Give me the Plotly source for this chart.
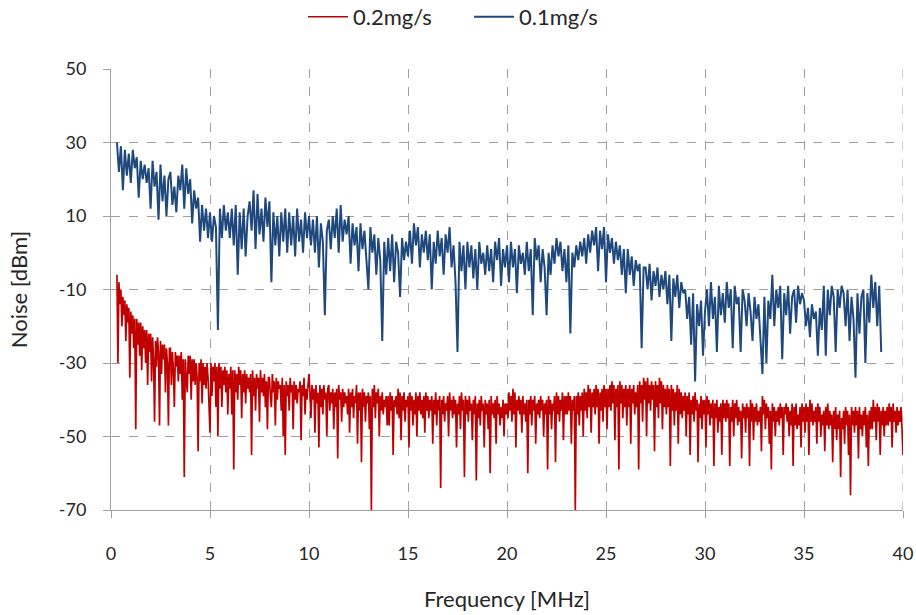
import numpy as np
import plotly.graph_objects as go

# Frequency grids (MHz)
freq_red = np.round(0.3 + 0.05 * np.arange(795), 2)    # 0.30 .. 40.00, 0.05 MHz step
freq_blue = np.round(0.3 + 0.1 * np.arange(387), 1)    # 0.3 .. 38.9, 0.1 MHz step

noise_02 = [
    -6, -30, -8, -14, -10, -20, -12, -17, -13, -24, -14, -19, -15, -34,
    -16, -22, -17, -26, -18, -48, -18, -25, -19, -28, -19, -32, -20, -26, -21, -30, -21, -36, -22, -27,
    -22, -35, -23, -29, -46, -24, -31, -23, -27, -47, -24, -33, -25, -29, -25, -38, -26, -30, -47, -26,
    -26, -36, -27, -32, -42, -27, -31, -28, -35, -28, -33, -27, -40, -29, -61, -29, -34, -38, -28, -33,
    -28, -40, -29, -35, -29, -36, -30, -34, -54, -30, -35, -29, -41, -30, -36, -31, -37, -30, -34, -45,
    -49, -30, -39, -31, -35, -30, -42, -31, -50, -30, -37, -31, -42, -32, -36, -31, -38, -32, -44, -33,
    -37, -31, -44, -32, -59, -32, -38, -33, -40, -31, -36, -32, -45, -33, -38, -32, -41, -33, -37, -34,
    -38, -33, -55, -32, -39, -34, -43, -33, -37, -34, -46, -32, -38, -34, -39, -33, -42, -35, -48, -34,
    -34, -39, -42, -33, -38, -35, -47, -34, -40, -35, -37, -36, -43, -34, -50, -36, -55, -35, -39, -36,
    -43, -34, -38, -36, -48, -35, -40, -36, -41, -37, -38, -35, -51, -36, -39, -34, -44, -37, -40, -36,
    -33, -38, -45, -36, -40, -37, -49, -36, -41, -38, -53, -36, -42, -37, -44, -36, -40, -38, -50, -37,
    -36, -43, -38, -41, -37, -48, -38, -42, -37, -56, -36, -40, -38, -46, -37, -42, -38, -41, -39, -44,
    -37, -49, -38, -42, -37, -45, -39, -41, -36, -52, -38, -43, -38, -57, -37, -42, -38, -46, -39, -41,
    -38, -48, -39, -70, -37, -42, -36, -45, -38, -41, -37, -50, -39, -43, -38, -44, -40, -42, -39, -47,
    -39, -47, -38, -43, -39, -55, -40, -42, -39, -44, -37, -45, -38, -51, -39, -43, -38, -46, -40, -42,
    -39, -53, -38, -43, -39, -47, -40, -44, -38, -50, -39, -43, -38, -44, -40, -45, -39, -49, -38, -43,
    -39, -45, -40, -43, -39, -52, -40, -44, -38, -47, -40, -43, -39, -64, -40, -44, -39, -46, -41, -43,
    -39, -50, -38, -43, -40, -45, -39, -44, -40, -53, -41, -44, -39, -48, -38, -43, -40, -61, -39, -44,
    -40, -46, -39, -43, -41, -51, -40, -44, -39, -62, -41, -45, -40, -47, -39, -43, -41, -53, -40, -44,
    -41, -48, -40, -60, -39, -44, -41, -45, -40, -52, -39, -44, -41, -47, -42, -45, -40, -50, -41, -44,
    -41, -45, -38, -43, -39, -46, -37, -44, -38, -53, -40, -43, -39, -44, -40, -49, -39, -44, -41, -46,
    -40, -60, -40, -44, -39, -47, -40, -43, -39, -52, -41, -44, -40, -45, -39, -43, -40, -50, -41, -44,
    -40, -59, -39, -44, -40, -48, -41, -43, -39, -57, -38, -44, -39, -46, -40, -43, -38, -51, -39, -44,
    -39, -44, -38, -43, -39, -52, -40, -43, -39, -70, -39, -44, -38, -47, -39, -43, -38, -50, -37, -43,
    -38, -45, -36, -42, -37, -49, -38, -42, -37, -44, -36, -42, -37, -52, -38, -43, -37, -46, -36, -42,
    -37, -48, -37, -42, -36, -43, -35, -41, -36, -51, -37, -42, -36, -59, -35, -41, -36, -45, -37, -42,
    -36, -47, -37, -42, -36, -52, -37, -41, -36, -44, -38, -42, -36, -59, -35, -41, -36, -46, -34, -40,
    -35, -50, -34, -41, -36, -43, -35, -40, -36, -54, -35, -42, -36, -45, -34, -41, -35, -48, -36, -42,
    -37, -44, -36, -42, -37, -58, -36, -43, -37, -47, -38, -43, -36, -52, -37, -44, -38, -45, -39, -43,
    -38, -50, -39, -44, -38, -55, -40, -44, -39, -46, -38, -43, -40, -57, -41, -45, -39, -48, -40, -44,
    -40, -53, -39, -44, -40, -47, -41, -45, -40, -58, -41, -45, -40, -49, -42, -46, -41, -55, -40, -45,
    -41, -46, -40, -45, -41, -58, -42, -46, -40, -50, -41, -45, -40, -47, -42, -46, -43, -56, -41, -45,
    -42, -49, -41, -45, -42, -58, -40, -46, -41, -51, -42, -46, -41, -47, -43, -46, -42, -54, -39, -44,
    -40, -48, -41, -45, -42, -52, -43, -59, -41, -46, -42, -50, -43, -46, -42, -47, -41, -45, -42, -55,
    -42, -44, -41, -46, -42, -50, -43, -47, -41, -58, -42, -47, -41, -48, -44, -47, -42, -53, -41, -46,
    -42, -49, -41, -46, -42, -55, -40, -46, -41, -47, -43, -46, -42, -52, -41, -46, -42, -50, -44, -47,
    -43, -54, -42, -47, -41, -48, -43, -47, -44, -57, -43, -48, -42, -51, -44, -48, -43, -61, -45, -48,
    -43, -52, -42, -47, -43, -55, -44, -66, -42, -47, -43, -49, -42, -47, -43, -56, -42, -48, -44, -50,
    -43, -47, -42, -53, -44, -58, -43, -48, -42, -48, -40, -46, -42, -51, -41, -46, -42, -55, -43, -47,
    -42, -50, -43, -47, -42, -47, -41, -46, -42, -53, -41, -46, -43, -49, -42, -47, -43, -46, -42, -48,
    -55,
]

noise_01 = [
    30, 22, 29, 17, 28, 21, 27,
    19, 28, 23, 26, 15, 25, 20, 24, 19, 23,
    12, 25, 18, 22, 9, 24, 14, 21, 10, 20,
    22, 13, 18, 11, 21, 17, 24, 12, 23, 16,
    20, 8, 17, 12, 15, 3, 13, 6, 12, 4,
    11, 3, 10, 7, -21, 12, 4, 13, 6, 11,
    4, 12, 2, 13, -6, 11, 1, 12, -1, 10,
    14, 6, 17, 1, 16, 5, 12, 3, 15, 7,
    14, -8, 11, 2, 10, -1, 11, 3, 12, 0,
    11, 2, 10, -1, 12, 3, 9, 0, 11, 4,
    10, 2, 9, 0, 10, -4, 8, 3, -17, 6,
    9, 1, 10, 4, 12, 0, 13, 3, 9, 5,
    10, -3, 8, 2, 7, -5, 8, 1, 6, -2,
    -10, 7, 0, 5, -6, 4, -2, -24, 3, -6,
    4, -5, 5, -8, 3, 0, -12, 4, -2, 3,
    -1, 6, -3, 8, 2, 7, -4, 5, 0, 6,
    -2, 5, -10, 3, -3, 6, -1, 4, -6, 5,
    0, 7, -4, 2, -8, -27, 3, -5, 2, -10,
    3, -4, 2, -7, 1, -10, 3, -3, 0, -6,
    2, -5, 1, -8, 3, -2, 4, -9, 1, -4,
    2, -8, 3, -4, 1, -11, 2, -3, 0, -6,
    3, -5, 1, -17, 4, -2, 2, -8, 1, -4,
    -17, 0, -6, 2, -3, 4, -1, 3, -5, 1,
    -8, 2, -22, 0, -4, 2, -2, 3, -1, 4,
    -3, 5, 0, 6, 2, 7, -5, 6, 1, 7,
    -8, 5, 0, 4, -3, 3, -2, 2, -6, 1,
    -11, 1, -6, -1, -9, -2, -5, -3, -26, -4,
    -4, -10, -3, -13, -5, -9, -4, -12, -6, -10,
    -5, -14, -6, -24, -7, -12, -6, -15, -8, -11,
    -10, -18, -12, -25, -11, -35, -14, -20, -13, -28,
    -16, -10, -20, -8, -18, -12, -27, -9, -17, -11,
    -19, -8, -15, -10, -26, -9, -14, -12, -27, -10,
    -13, -20, -11, -16, -24, -12, -18, -14, -22, -33,
    -12, -30, -13, -18, -6, -20, -10, -15, -9, -29,
    -11, -17, -9, -22, -12, -10, -19, -9, -14, -11,
    -13, -20, -15, -23, -14, -18, -16, -28, -15, -21,
    -9, -28, -10, -17, -9, -12, -27, -10, -15, -9,
    -11, -20, -10, -24, -12, -18, -34, -11, -22, -12,
    -10, -30, -11, -19, -6, -15, -8, -20, -9, -27,
]

assert len(noise_02) == len(freq_red), len(noise_02)
assert len(noise_01) == len(freq_blue), len(noise_01)

x_ticks = [0, 5, 10, 15, 20, 25, 30, 35, 40]
y_ticks = [-70, -50, -30, -10, 10, 30, 50]

FONT = "Lato"
TXT = "#262626"
GRID = "#A0A0A0"
fig = go.Figure()
fig.add_trace(go.Scatter(x=freq_red, y=noise_02, mode="lines", name="0.2mg/s",
                         line=dict(color="#C00000", width=1.7)))
fig.add_trace(go.Scatter(x=freq_blue, y=noise_01, mode="lines", name="0.1mg/s",
                         line=dict(color="#1F497D", width=2.0)))

axis_common = dict(showgrid=True, gridcolor=GRID, griddash="dash", gridwidth=1,
                   showline=True, linecolor=GRID, linewidth=1,
                   ticks="outside", ticklen=7, tickcolor=GRID,
                   zeroline=False, automargin=False, ticklabeloverflow="allow",
                   tickfont=dict(family=FONT, size=18, color=TXT))

fig.update_xaxes(range=[0, 40], tickvals=x_ticks, ticktext=[str(v) for v in x_ticks],
                 ticklabelstandoff=20,
                 title=dict(text="Frequency [MHz]", font=dict(family=FONT, size=22, color=TXT),
                            standoff=29),
                 **axis_common)
fig.update_yaxes(range=[-70, 50], tickvals=y_ticks, ticktext=[str(v) for v in y_ticks],
                 ticklabelstandoff=13,
                 title=dict(text="Noise [dBm]", font=dict(family=FONT, size=22, color=TXT),
                            standoff=25),
                 **axis_common)

# dashed gridline along the right edge (x = 40)
fig.add_shape(type="line", xref="x", yref="paper", x0=40, x1=40, y0=0, y1=1,
              line=dict(color=GRID, width=1, dash="dash"), layer="below")

fig.update_layout(
    width=916, height=615,
    margin=dict(l=111, r=13, t=69, b=105),
    paper_bgcolor="white", plot_bgcolor="white",
    font=dict(family=FONT, size=18, color=TXT),
    showlegend=True,
    legend=dict(orientation="h", xref="container", x=0.512, xanchor="center",
                yref="container", y=0.9724, yanchor="middle",
                font=dict(family=FONT, size=22, color=TXT),
                itemwidth=40, tracegroupgap=0,
                entrywidth=111, entrywidthmode="pixels"),
)

# remove the default 8px page margin so the figure fills the window exactly
fig.write_html("out.html", post_script="document.body.style.margin='0';",
               config={"displayModeBar": False})
